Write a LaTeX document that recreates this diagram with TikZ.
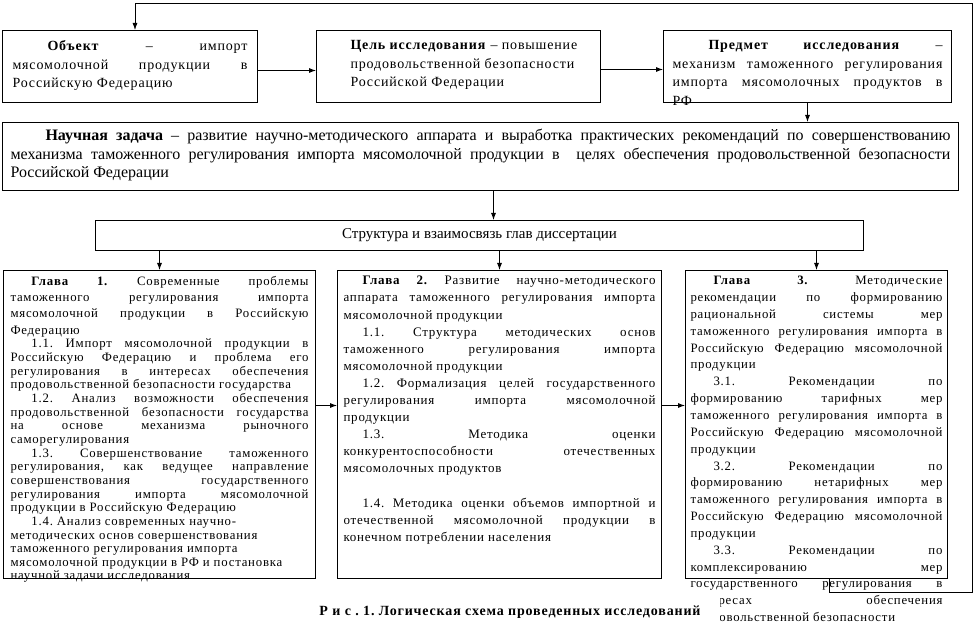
\documentclass[tikz,border=0pt]{standalone}
\usepackage{fontspec}
\setmainfont{Liberation Serif}[LetterSpace=6]
\newfontfamily\plainfont{Liberation Serif}
\usetikzlibrary{arrows.meta}

\tolerance=10000 \hbadness=10000 \vbadness=10000 \hfuzz=4pt \vfuzz=400pt
\hyphenpenalty=10000 \exhyphenpenalty=10000
\frenchspacing

% width, height, side inset, top gap, indent, text
\newcommand{\boxtext}[6]{\parbox[t][#2][t]{#1}{\setlength{\leftskip}{#3}\setlength{\rightskip}{#3}\setlength{\parindent}{#5}\vspace*{#4}#6}}

\begin{document}
\begin{tikzpicture}[x=1pt, y=-1pt,
    box/.style={draw, line width=1pt, inner sep=0pt, anchor=north west},
    link/.style={line width=0.8pt, -{Latex[length=7pt,width=5pt]}}]
    \useasboundingbox (0,0) rectangle (974,636);

    % Top row
    \node[box] (obj) at (2,30) {\boxtext{255pt}{72pt}{10pt}{10pt}{35pt}{\fontsize{14}{18.5}\selectfont
        \textbf{Объект} – импорт\linebreak мясомолочной продукции в\linebreak Российскую Федерацию}};
    \node[box] (goal) at (316,30) {\boxtext{284pt}{72pt}{34pt}{10pt}{0pt}{\setlength{\rightskip}{4pt}\fontsize{14}{18.5}\selectfont
        \textbf{Цель исследования} – повышение\\ продовольственной безопасности\\ Российской Федерации}};
    \node[box] (subj) at (663,30) {\boxtext{288pt}{72pt}{9pt}{10pt}{36pt}{\fontsize{14}{18.5}\selectfont
        \textbf{Предмет исследования} –\linebreak механизм таможенного регулирования\linebreak импорта мясомолочных продуктов в\linebreak РФ}};

    % Task and structure
    \node[box] (task) at (2,122) {\boxtext{956pt}{68pt}{8pt}{7pt}{35pt}{\plainfont\fontsize{16}{18.5}\selectfont
        \textbf{Научная задача} – развитие научно-методического аппарата и выработка практических рекомендаций по совершенствованию\linebreak
        механизма таможенного регулирования импорта мясомолочной продукции в\ \ целях обеспечения продовольственной безопасности\linebreak
        Российской Федерации}};
    \node[box, minimum width=768pt, minimum height=30pt, font=\plainfont\fontsize{15}{18}\selectfont] (struct) at (95,220)
        {Структура и взаимосвязь глав диссертации};

    % Chapters
    \node[box] (ch1) at (3,270) {\boxtext{312pt}{308pt}{7pt}{5.7pt}{21pt}{\fontsize{12.8}{16.3}\selectfont
        \textbf{Глава 1.} Современные проблемы\linebreak таможенного регулирования импорта\linebreak мясомолочной продукции в Российскую\linebreak Федерацию\par
        \fontsize{12.8}{13.65}\selectfont
        1.1. Импорт мясомолочной продукции в\linebreak Российскую Федерацию и проблема его\linebreak регулирования в интересах обеспечения\linebreak продовольственной безопасности государства\par
        1.2. Анализ возможности обеспечения\linebreak продовольственной безопасности государства\linebreak на основе механизма рыночного\linebreak саморегулирования\par
        1.3. Совершенствование таможенного\linebreak регулирования, как ведущее направление\linebreak совершенствования государственного\linebreak регулирования импорта мясомолочной\linebreak продукции в Российскую Федерацию\par
        1.4. Анализ современных научно-\\методических основ совершенствования\\таможенного регулирования импорта\\мясомолочной продукции в РФ и постановка\\научной задачи исследования}};
    \node[box] (ch2) at (337,270) {\boxtext{324pt}{308pt}{6pt}{5.7pt}{19pt}{\fontsize{13}{17.1}\selectfont
        \textbf{Глава 2.} Развитие научно-методического\linebreak аппарата таможенного регулирования импорта\linebreak мясомолочной продукции\par
        1.1. Структура методических основ\linebreak таможенного регулирования импорта\linebreak мясомолочной продукции\par
        1.2. Формализация целей государственного\linebreak регулирования импорта мясомолочной\linebreak продукции\par
        1.3. Методика оценки\linebreak конкурентоспособности отечественных\linebreak мясомолочных продуктов\par
        \vspace{17.1pt}
        1.4. Методика оценки объемов импортной и\linebreak отечественной мясомолочной продукции в\linebreak конечном потреблении населения}};
    \node[box] (ch3) at (685,270) {\boxtext{262pt}{308pt}{5pt}{5.7pt}{23pt}{\fontsize{12.8}{16.85}\selectfont
        \textbf{Глава 3.} Методические\linebreak рекомендации по формированию\linebreak рациональной системы мер\linebreak таможенного регулирования импорта в\linebreak Российскую Федерацию мясомолочной\linebreak продукции\par
        3.1. Рекомендации по\linebreak формированию тарифных мер\linebreak таможенного регулирования импорта в\linebreak Российскую Федерацию мясомолочной\linebreak продукции\par
        3.2. Рекомендации по\linebreak формированию нетарифных мер\linebreak таможенного регулирования импорта в\linebreak Российскую Федерацию мясомолочной\linebreak продукции\par
        3.3. Рекомендации по\linebreak комплексированию мер\linebreak государственного регулирования в\linebreak интересах обеспечения\linebreak продовольственной безопасности}};

    % Caption
    \node[fill=white, inner sep=0pt, minimum width=420pt, minimum height=34pt, font=\bfseries\fontsize{14}{16}\selectfont] (cap) at (510,612)
        {Р и с . 1. Логическая схема проведенных исследований};

    % Arrows
    \draw[link] ([yshift=-4pt]obj.east) -- ([yshift=-4pt]goal.west);
    \draw[link] ([yshift=-3pt]goal.east) -- ([yshift=-3pt]subj.west);
    \draw[link] (subj.south) -- (subj.south |- task.north);
    \draw[link] ([xshift=13pt]task.south) -- ([xshift=13pt]task.south |- struct.north);
    \foreach \c in {ch1, ch2, ch3}
        \draw[link] (struct.south -| \c.north) -- (\c.north);
    \draw[link] ([yshift=19pt]ch1.east) -- ([yshift=19pt]ch1.east -| ch2.west);
    \draw[link] ([yshift=19pt]ch2.east) -- ([yshift=19pt]ch2.east -| ch3.west);
    % Feedback loop
    \draw[link] ([xshift=13pt]ch3.south) |- (972,592) -- (972,3) -| ([xshift=5pt]obj.north);
\end{tikzpicture}
\end{document}
